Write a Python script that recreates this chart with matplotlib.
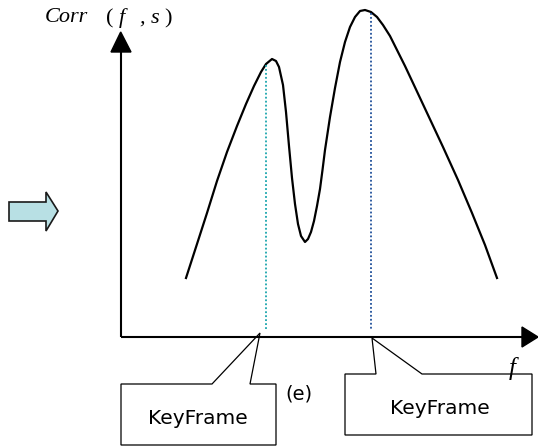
import matplotlib.pyplot as plt
from matplotlib.patches import Polygon

# correlation curve (pixel units, y grows downward)
curve_x = [186, 197, 207, 217, 227, 237, 246, 254, 261, 266, 272, 276, 279,
           283, 286, 289, 292, 295, 298, 301, 305, 308, 311, 314, 317, 320,
           322.5, 325, 330, 335, 340, 345, 350, 355, 360, 365, 371, 377, 383,
           390, 397, 405, 413, 428, 443, 458, 472, 485, 497]
curve_y = [278, 244, 213, 181, 152, 126, 104, 86, 72, 64, 59, 61, 67,
           85, 112, 146, 178, 204, 224, 236, 242, 239, 232, 221, 206, 189,
           170, 150, 117, 88, 62, 42, 27, 17, 11, 10, 12, 17, 25,
           36, 50, 66, 83, 115, 147, 180, 213, 245, 278]

# key frame markers (x position, top of dotted line)
key_x = [265.7, 370.7]
key_top = [65, 13]
key_colors = ['#1aa5ad', '#1f4f9a']
key_labels = ['KeyFrame', 'KeyFrame']

origin = (120.7, 337)

fig = plt.figure(figsize=(5.38, 4.48), dpi=100)
ax = fig.add_axes([0, 0, 1, 1])
ax.set_xlim(0, 538)
ax.set_ylim(448, 0)
ax.axis('off')

# axes with arrow heads
ax.plot([origin[0], origin[0]], [origin[1], 52], color='black', lw=1.5,
        solid_capstyle='butt')
ax.plot([origin[0], 522], [origin[1], origin[1]], color='black', lw=1.5,
        solid_capstyle='butt')
ax.add_patch(Polygon([(origin[0], 32), (111, 52), (131, 52)],
                     closed=True, color='black'))
ax.add_patch(Polygon([(538, origin[1]), (522, origin[1] - 10),
                      (522, origin[1] + 10)], closed=True, color='black'))

# curve
ax.plot(curve_x, curve_y, color='black', lw=1.6, solid_joinstyle='round')

# dotted lines at the peaks
for x, top, c in zip(key_x, key_top, key_colors):
    ax.plot([x, x], [top, 329], color=c, lw=1.3, ls=(0, (1, 1.2)))

# callout boxes
call1 = [(121, 384), (212, 384), (260, 333), (250, 384), (276, 384),
         (276, 445), (121, 445)]
call2 = [(345, 374), (376, 374), (372, 338), (422, 374), (532, 374),
         (532, 435), (345, 435)]
for pts in (call1, call2):
    ax.add_patch(Polygon(pts, closed=True, facecolor='white',
                         edgecolor='black', lw=0.9))
ax.text(198, 418, key_labels[0], fontsize=14.5, ha='center', va='center',
        family='DejaVu Sans')
ax.text(440, 408, key_labels[1], fontsize=14.5, ha='center', va='center',
        family='DejaVu Sans')
ax.text(299, 394, '(e)', fontsize=14, ha='center', va='center',
        family='DejaVu Sans')

# axis labels
ax.text(512, 369, 'f', fontsize=18, style='italic', ha='center',
        va='center', family='Liberation Serif')
ax.text(45, 22, 'Corr', fontsize=16, style='italic', ha='left',
        va='baseline', family='Liberation Serif')
for s, x, it in [('(', 106, False), ('f', 119, True), (',', 139, True),
                 ('s', 151, True), (')', 164, False)]:
    ax.text(x, 23, s, fontsize=16, style='italic' if it else 'normal',
            ha='left', va='baseline', family='Liberation Serif')

# block arrow on the left
ax.add_patch(Polygon([(9, 202), (46, 202), (46, 192), (58, 211), (46, 231),
                      (46, 221), (9, 221)], closed=True,
                     facecolor='#b8e0e4', edgecolor='#1a1a1a', lw=1.2))

fig.savefig('out.png', dpi=100)
